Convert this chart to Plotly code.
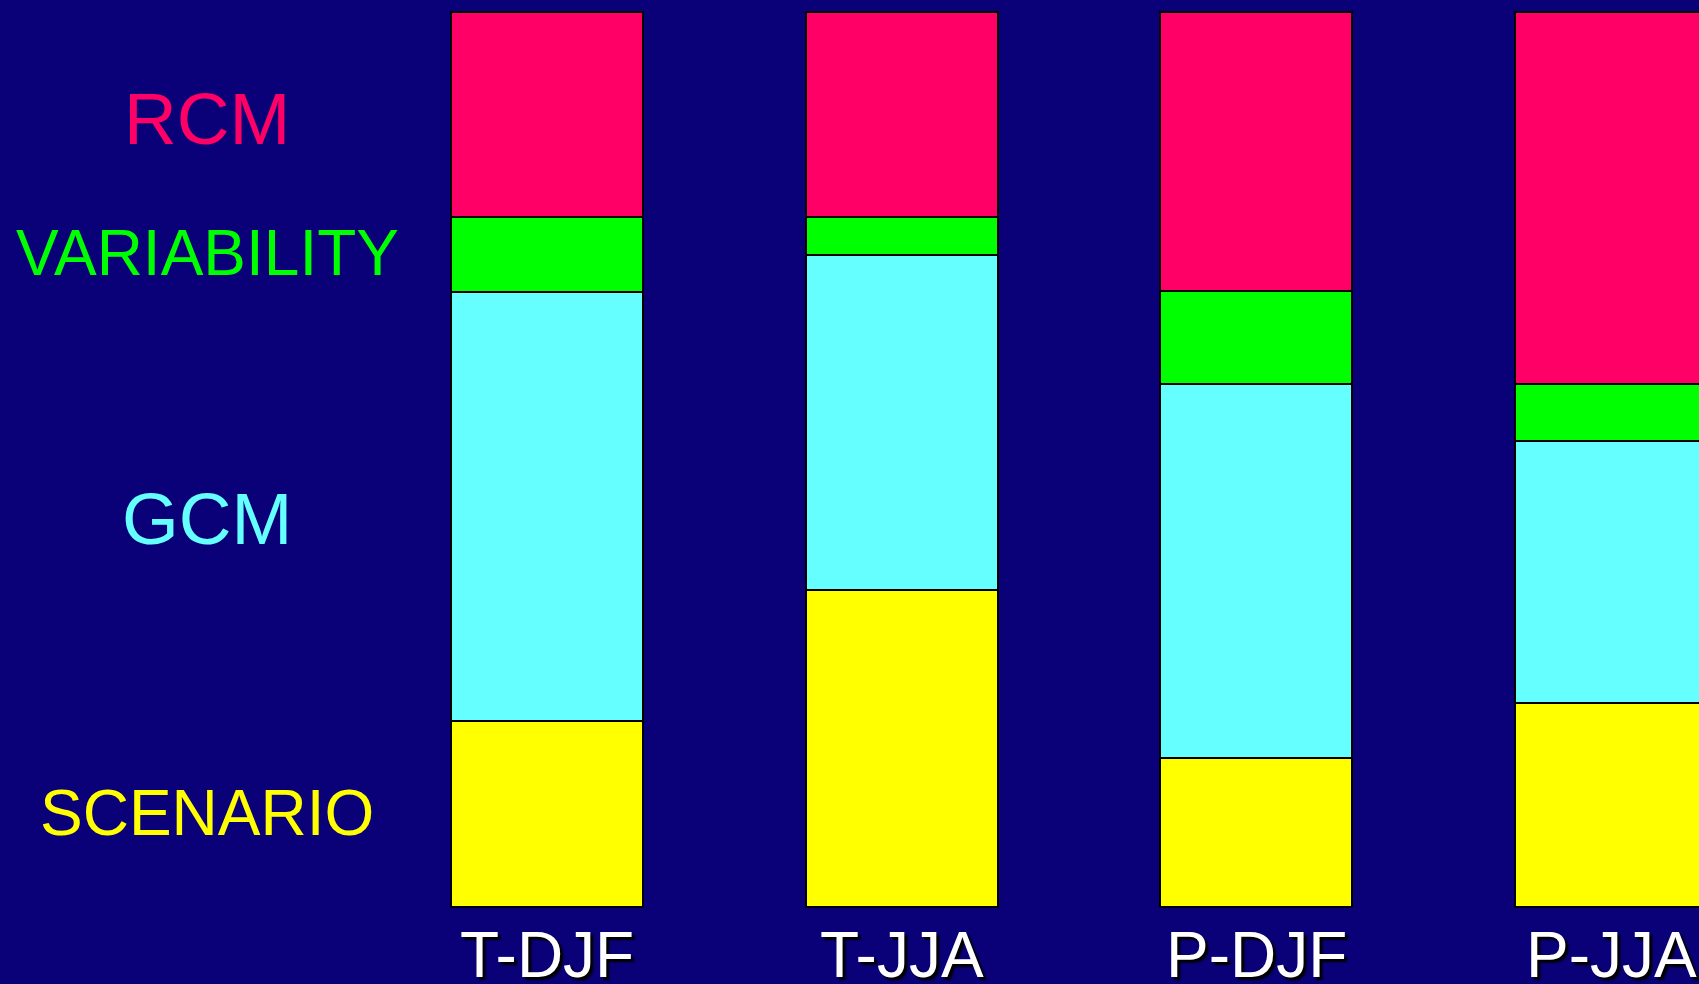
import plotly.graph_objects as go

categories = ["T-DJF", "T-JJA", "P-DJF", "P-JJA"]
series_names = ["SCENARIO", "GCM", "VARIABILITY", "RCM"]
scenario = [20.8, 35.4, 16.6, 22.8]
gcm = [47.9, 37.5, 41.8, 29.3]
variability = [8.4, 4.2, 10.4, 6.3]
rcm = [22.9, 22.9, 31.2, 41.6]

values = [scenario, gcm, variability, rcm]
colors = ["#FFFF00", "#66FFFF", "#00FF00", "#FF0066"]
label_sizes = [64, 73, 64, 73]
label_y = [0.174, 0.473, 0.743, 0.880]

W, H = 1699, 984
bg = "#0A0078"

fig = go.Figure()
for name, vals, col in zip(series_names, values, colors):
    fig.add_trace(go.Bar(
        x=categories, y=vals, name=name,
        marker=dict(color=col, line=dict(color="black", width=2)),
        width=0.541, showlegend=False,
    ))

font_family = "Arial, Liberation Sans, sans-serif"
annotations = []
for name, col, sz, yy in zip(series_names, colors, label_sizes, label_y):
    annotations.append(dict(
        text=name, xref="paper", yref="paper", x=207 / W, y=yy,
        xanchor="center", yanchor="middle", showarrow=False,
        font=dict(family=font_family, size=sz, color=col),
    ))
for cat in categories:
    annotations.append(dict(
        text=cat, xref="x", yref="y", x=cat, y=-5.4,
        xanchor="center", yanchor="middle", showarrow=False,
        font=dict(family=font_family, size=64, color="white",
                  shadow="3px 3px 2px #000000"),
    ))

px_per_unit_x = (1611 - 547) / 3.0
x0 = -547 / px_per_unit_x
x1 = (W - 547) / px_per_unit_x
py = 895 / 100.0
y0 = -(H - 907) / py
y1 = 100 + 12 / py

fig.update_layout(
    width=W, height=H,
    margin=dict(l=0, r=0, t=0, b=0),
    paper_bgcolor=bg, plot_bgcolor=bg,
    barmode="stack",
    xaxis=dict(range=[x0, x1], showticklabels=False, showgrid=False,
               zeroline=False, showline=False, fixedrange=True),
    yaxis=dict(range=[y0, y1], showticklabels=False, showgrid=False,
               zeroline=False, showline=False, fixedrange=True),
    annotations=annotations,
)

fig.write_html(
    "out.html",
    config={"displayModeBar": False},
    post_script="document.body.style.margin='0';document.body.style.overflow='hidden';document.body.style.background='" + bg + "';",
)
